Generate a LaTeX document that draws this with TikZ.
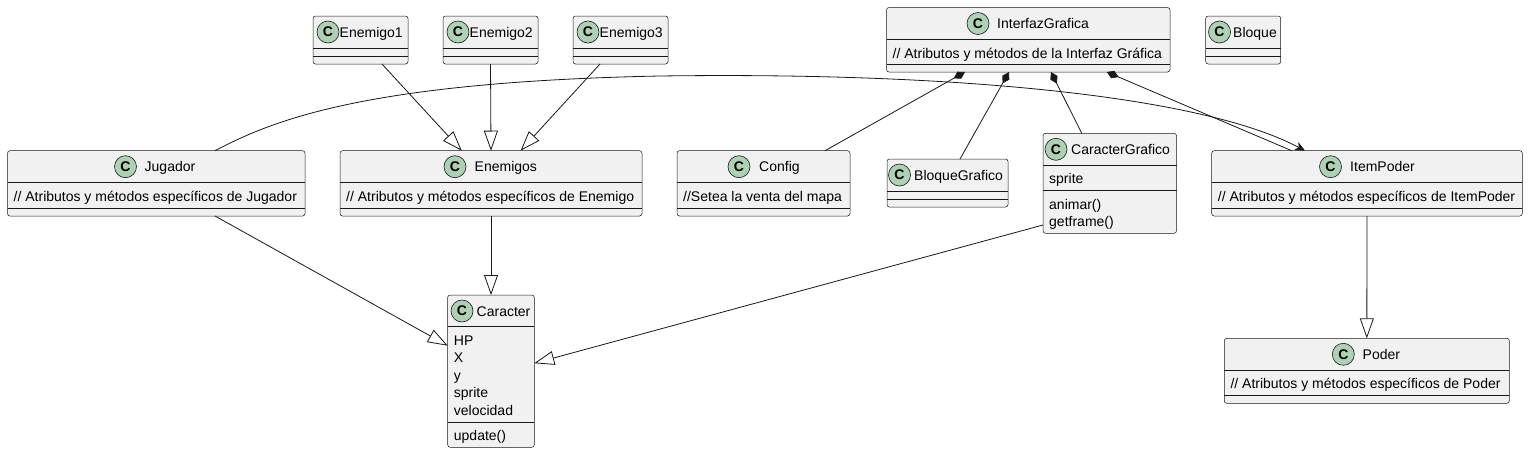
\documentclass[tikz,border=0pt]{standalone}
\usepackage{fontspec}
\setmainfont{Liberation Sans}
\usetikzlibrary{arrows.meta}
\definecolor{linec}{HTML}{181818}
\definecolor{boxc}{HTML}{F1F1F1}
\definecolor{badgec}{HTML}{ADD1B2}
\tikzset{
  cls/.style={draw=linec, fill=boxc, line width=0.5pt, rounded corners=2.5pt, anchor=north west, inner sep=0pt, outer sep=0pt},
  sep/.style={draw=linec, line width=0.5pt},
  badge/.style={circle, draw=linec, fill=badgec, line width=0.6pt, minimum size=22pt, inner sep=0pt, font=\fontsize{14}{14}\selectfont\bfseries},
  cname/.style={anchor=base west, inner sep=0pt, font=\fontsize{14}{17.5}\selectfont},
  attr/.style={anchor=base west, inner sep=0pt, font=\fontsize{14}{17.5}\selectfont},
  ext/.style={draw=linec, line width=0.8pt, -{Triangle[open, length=20pt, width=14pt]}},
  comp/.style={draw=linec, line width=0.8pt, {Diamond[length=13pt, width=8pt]}-},
  assoc/.style={draw=linec, line width=0.8pt, -{Stealth[length=10pt, width=9pt, inset=3pt]}},
}
\begin{document}
\begin{tikzpicture}[x=1pt, y=-1pt]
	\fill[white] (0,0) rectangle (1528,453);

	% clases
	\node[cls, minimum width=95pt, minimum height=48pt] (en1) at (313,16) {};
	\node[cls, minimum width=95pt, minimum height=48pt] (en2) at (443,16) {};
	\node[cls, minimum width=95pt, minimum height=48pt] (en3) at (573,16) {};
	\node[cls, minimum width=283.5pt, minimum height=64.5pt] (igf) at (886.5,7.5) {};
	\node[cls, minimum width=75pt, minimum height=48pt] (blq) at (1205.7,16) {};
	\node[cls, minimum width=297.5pt, minimum height=65.3pt] (jug) at (7.5,150.7) {};
	\node[cls, minimum width=302pt, minimum height=65.3pt] (ens) at (340,150.7) {};
	\node[cls, minimum width=173pt, minimum height=65.3pt] (cfg) at (677,150.7) {};
	\node[cls, minimum width=121pt, minimum height=48pt] (bgr) at (887,159) {};
	\node[cls, minimum width=133.5pt, minimum height=100pt] (cgr) at (1043,133.3) {};
	\node[cls, minimum width=310.6pt, minimum height=65.3pt] (itp) at (1211.7,150.7) {};
	\node[cls, minimum width=86.6pt, minimum height=152.3pt] (car) at (447.7,295) {};
	\node[cls, minimum width=285pt, minimum height=65pt] (pod) at (1224.3,338.3) {};

	% separadores
	\draw[sep] (313,48) -- (408,48) (313,56) -- (408,56);
	\draw[sep] (443,48) -- (538,48) (443,56) -- (538,56);
	\draw[sep] (573,48) -- (668,48) (573,56) -- (668,56);
	\draw[sep] (886.5,39.5) -- (1170,39.5) (886.5,64.5) -- (1170,64.5);
	\draw[sep] (1205.7,48) -- (1280.7,48) (1205.7,56) -- (1280.7,56);
	\draw[sep] (7.5,182.7) -- (305,182.7) (7.5,208.3) -- (305,208.3);
	\draw[sep] (340,182.7) -- (642,182.7) (340,208.3) -- (642,208.3);
	\draw[sep] (677,182.7) -- (850,182.7) (677,208.3) -- (850,208.3);
	\draw[sep] (887,191) -- (1008,191) (887,199) -- (1008,199);
	\draw[sep] (1043,165.3) -- (1176.5,165.3) (1043,190.7) -- (1176.5,190.7);
	\draw[sep] (1211.7,182.7) -- (1522.3,182.7) (1211.7,208.3) -- (1522.3,208.3);
	\draw[sep] (447.7,326.7) -- (534.3,326.7) (447.7,422.3) -- (534.3,422.3);
	\draw[sep] (1224.3,370.3) -- (1509.3,370.3) (1224.3,395.7) -- (1509.3,395.7);

	% cabeceras
	\node[badge] (en1C) at (328,32) {C};
	\node[cname] (en1N) at (339.5,37) {Enemigo1};
	\node[badge] (en2C) at (458,32) {C};
	\node[cname] (en2N) at (469.5,37) {Enemigo2};
	\node[badge] (en3C) at (588,32) {C};
	\node[cname] (en3N) at (599.5,37) {Enemigo3};
	\node[badge] (igfC) at (978,23.5) {C};
	\node[cname] (igfN) at (997,28.5) {InterfazGrafica};
	\node[badge] (blqC) at (1219.5,32) {C};
	\node[cname] (blqN) at (1233,37) {Bloque};
	\node[badge] (jugC) at (125.5,166.7) {C};
	\node[cname] (jugN) at (144.5,171.7) {Jugador};
	\node[badge] (ensC) at (455,166.7) {C};
	\node[cname] (ensN) at (474.5,171.7) {Enemigos};
	\node[badge] (cfgC) at (739,166.7) {C};
	\node[cname] (cfgN) at (759,171.7) {Config};
	\node[badge] (bgrC) at (899.5,175) {C};
	\node[cname] (bgrN) at (914,180) {BloqueGrafico};
	\node[badge] (cgrC) at (1056,149.3) {C};
	\node[cname] (cgrN) at (1071,154.3) {CaracterGrafico};
	\node[badge] (itpC) at (1330.5,166.7) {C};
	\node[cname] (itpN) at (1350,171.7) {ItemPoder};
	\node[badge] (carC) at (462,311) {C};
	\node[cname] (carN) at (476.5,316) {Caracter};
	\node[badge] (podC) at (1343.3,354.3) {C};
	\node[cname] (podN) at (1362.5,359.3) {Poder};

	% atributos y metodos
	\node[attr] (igfA) at (892.5,58) {// Atributos y métodos de la Interfaz Gráfica};
	\node[attr] (jugA) at (13.5,201.2) {// Atributos y métodos específicos de Jugador};
	\node[attr] (ensA) at (346,201.2) {// Atributos y métodos específicos de Enemigo};
	\node[attr] (cfgA) at (683,201.2) {//Setea la venta del mapa};
	\node[attr] (itpA) at (1217.7,201.2) {// Atributos y métodos específicos de ItemPoder};
	\node[attr] (podA) at (1230.3,388.8) {// Atributos y métodos específicos de Poder};
	\node[attr] (cgrA) at (1049,183.8) {sprite};
	\node[attr] (cgrM1) at (1049,209.2) {animar()};
	\node[attr] (cgrM2) at (1049,226.7) {getframe()};
	\foreach \t [count=\i] in {HP,X,y,sprite,velocidad}
		\node[attr] (carA\i) at (453.7,327.7+17.5*\i) {\t};
	\node[attr] (carM) at (453.7,440.8) {update()};

	% herencia
	\draw[ext] ([xshift=21.5pt]en1.south) -- ([xshift=-29.3pt]ens.north);
	\draw[ext] (en2.south) -- (ens.north);
	\draw[ext] ([xshift=-20.5pt]en3.south) -- ([xshift=29.6pt]ens.north);
	\draw[ext] ([xshift=58.75pt]jug.south) -- ([yshift=25.5pt]car.west);
	\draw[ext] (ens.south) -- (car.north);
	\draw[ext] ([yshift=-41.7pt]cgr.west) -- ([yshift=7.9pt]car.east);
	\draw[ext] (itp.south) -- (pod.north);

	% composicion
	\draw[comp] ([xshift=-63.25pt]igf.south) -- ([xshift=61.5pt]cfg.north);
	\draw[comp] ([xshift=-19.25pt]igf.south) -- ([xshift=12.5pt]bgr.north);
	\draw[comp] ([xshift=22.75pt]igf.south) -- ([xshift=-28pt]cgr.north);
	\draw[comp] ([xshift=78.5pt]igf.south) -- ([xshift=-75.3pt]itp.north);

	% asociacion
	\draw[assoc] ([xshift=58.75pt]jug.north) .. controls (270,122) and (360,82) .. (660,76)
		.. controls (950,72) and (1200,95) .. ([xshift=-62pt]itp.north);
\end{tikzpicture}
\end{document}
